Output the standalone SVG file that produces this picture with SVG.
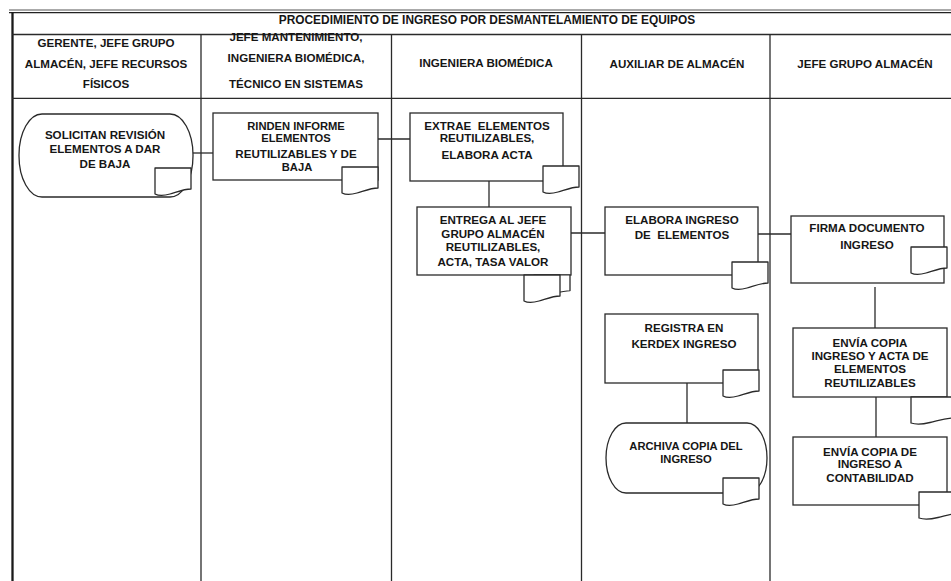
<svg xmlns="http://www.w3.org/2000/svg" width="951" height="581" viewBox="0 0 951 581">
  <style>
    .frame { stroke: #2a2a2a; stroke-width: 1.3; fill: none; }
    .box { fill: #ffffff; stroke: #2a2a2a; stroke-width: 1.3; }
    .doc { fill: #ffffff; stroke: #2a2a2a; stroke-width: 1.3; stroke-linejoin: round; }
    .conn { stroke: #2a2a2a; stroke-width: 1.3; fill: none; }
    text { font-family: "Liberation Sans", Arial, sans-serif; font-weight: bold; font-size: 11.6px; fill: #161616; text-anchor: middle; }
    .title { font-size: 11.9px; }
    .tight { font-size: 11.2px; }
  </style>
  <defs>
    <!-- document symbol attached to each activity -->
    <path id="docShape" d="M0,0 H36 V21 C29,21 22,24 15,26 C9,27.8 3,27.6 0,26 Z"/>
    <path id="docWide" d="M0,0 H44 V21 C35,21 28,23.5 19,25.5 C12,27.2 4,27.4 0,26 Z"/>
  </defs>

  <rect x="0" y="0" width="951" height="581" fill="#ffffff"/>

  <!-- table frame -->
  <g id="frame">
    <line x1="9" y1="10" x2="951" y2="10" stroke="#555" stroke-width="1"/>
    <line x1="9" y1="12.6" x2="951" y2="12.6" stroke="#222" stroke-width="1.3"/>
    <line x1="12.5" y1="12" x2="12.5" y2="581" stroke="#1a1a1a" stroke-width="2.3"/>
    <line class="frame" x1="12" y1="34.5" x2="951" y2="34.5"/>
    <line class="frame" x1="12" y1="98.3" x2="951" y2="98.3"/>
    <line class="frame" x1="201" y1="34.5" x2="201" y2="581"/>
    <line class="frame" x1="391.5" y1="34.5" x2="391.5" y2="581"/>
    <line class="frame" x1="581.5" y1="34.5" x2="581.5" y2="581"/>
    <line class="frame" x1="770" y1="34.5" x2="770" y2="581"/>
  </g>

  <!-- title and lane headers -->
  <g id="headers">
    <text class="title" x="487" y="24">PROCEDIMIENTO DE INGRESO POR DESMANTELAMIENTO DE EQUIPOS</text>
    <text x="106" y="47">GERENTE, JEFE GRUPO</text>
    <text x="106" y="68">ALMACÉN, JEFE RECURSOS</text>
    <text x="106" y="88">FÍSICOS</text>
    <text x="296" y="41">JEFE MANTENIMIENTO,</text>
    <text x="296" y="62">INGENIERA BIOMÉDICA,</text>
    <text x="296" y="88">TÉCNICO EN SISTEMAS</text>
    <text x="486" y="67">INGENIERA BIOMÉDICA</text>
    <text x="677" y="68">AUXILIAR DE ALMACÉN</text>
    <text x="865" y="68">JEFE GRUPO ALMACÉN</text>
  </g>

  <!-- connectors -->
  <g id="connectors">
    <line class="conn" x1="193" y1="153" x2="218" y2="153"/>
    <line class="conn" x1="378" y1="139" x2="413" y2="139"/>
    <line class="conn" x1="489" y1="181" x2="489" y2="207"/>
    <line class="conn" x1="560" y1="233" x2="605" y2="233"/>
    <line class="conn" x1="758" y1="234" x2="795" y2="234"/>
    <line class="conn" x1="875" y1="287" x2="875" y2="328"/>
    <line class="conn" x1="687" y1="383" x2="687" y2="423"/>
    <line class="conn" x1="876" y1="397" x2="876" y2="437"/>
  </g>

  <g id="solicitan">
    <rect class="box" x="19" y="114" width="174" height="83" rx="23" ry="41"/>
    <use href="#docShape" class="doc" transform="translate(155,168)"/>
    <text x="105" y="139">SOLICITAN REVISIÓN</text>
    <text x="105" y="153">ELEMENTOS A DAR</text>
    <text x="105" y="168">DE BAJA</text>
  </g>

  <g id="rinden">
    <rect class="box" x="213" y="113" width="165" height="67"/>
    <use href="#docShape" class="doc" transform="translate(342,167)"/>
    <text class="tight" x="296" y="130">RINDEN INFORME</text>
    <text class="tight" x="296" y="142">ELEMENTOS</text>
    <text x="296" y="158">REUTILIZABLES Y DE</text>
    <text class="tight" x="297" y="171">BAJA</text>
  </g>

  <g id="extrae">
    <rect class="box" x="410" y="113" width="153" height="68"/>
    <use href="#docShape" class="doc" transform="translate(543,166)"/>
    <text x="487" y="130" xml:space="preserve">EXTRAE  ELEMENTOS</text>
    <text x="487" y="142">REUTILIZABLES,</text>
    <text x="487" y="159">ELABORA ACTA</text>
  </g>

  <g id="entrega">
    <rect class="box" x="417" y="207" width="154" height="68"/>
    <use href="#docShape" class="doc" transform="translate(534,275) scale(1,0.75)"/>
    <use href="#docShape" class="doc" transform="translate(524,275)"/>
    <text x="493" y="224">ENTREGA AL JEFE</text>
    <text x="493" y="238">GRUPO ALMACÉN</text>
    <text x="493" y="251">REUTILIZABLES,</text>
    <text x="493" y="266">ACTA, TASA VALOR</text>
  </g>

  <g id="elabora-ingreso">
    <rect class="box" x="605" y="207" width="153" height="68"/>
    <use href="#docShape" class="doc" transform="translate(732,262)"/>
    <text x="682" y="224">ELABORA INGRESO</text>
    <text x="682" y="239" xml:space="preserve">DE  ELEMENTOS</text>
  </g>

  <g id="firma">
    <rect class="box" x="791" y="216" width="153" height="67"/>
    <use href="#docShape" class="doc" transform="translate(911,247)"/>
    <text x="867" y="232">FIRMA DOCUMENTO</text>
    <text x="867" y="249">INGRESO</text>
  </g>

  <g id="registra">
    <rect class="box" x="605" y="314" width="153" height="69"/>
    <use href="#docShape" class="doc" transform="translate(723,370)"/>
    <text x="684" y="332">REGISTRA EN</text>
    <text x="684" y="348">KERDEX INGRESO</text>
  </g>

  <g id="archiva">
    <rect class="box" x="606" y="423" width="161" height="70" rx="20" ry="35"/>
    <use href="#docShape" class="doc" transform="translate(723,478)"/>
    <text class="tight" x="686" y="450">ARCHIVA COPIA DEL</text>
    <text class="tight" x="686" y="463">INGRESO</text>
  </g>

  <g id="envia-acta">
    <rect class="box" x="793" y="328" width="154" height="69"/>
    <use href="#docWide" class="doc" transform="translate(911,397)"/>
    <text x="870" y="347">ENVÍA COPIA</text>
    <text x="870" y="360">INGRESO Y ACTA DE</text>
    <text x="870" y="373">ELEMENTOS</text>
    <text x="870" y="387">REUTILIZABLES</text>
  </g>

  <g id="envia-contabilidad">
    <rect class="box" x="793" y="437" width="154" height="68"/>
    <use href="#docWide" class="doc" transform="translate(919,492)"/>
    <text x="870" y="456">ENVÍA COPIA DE</text>
    <text x="870" y="468">INGRESO A</text>
    <text x="870" y="482">CONTABILIDAD</text>
  </g>
</svg>
